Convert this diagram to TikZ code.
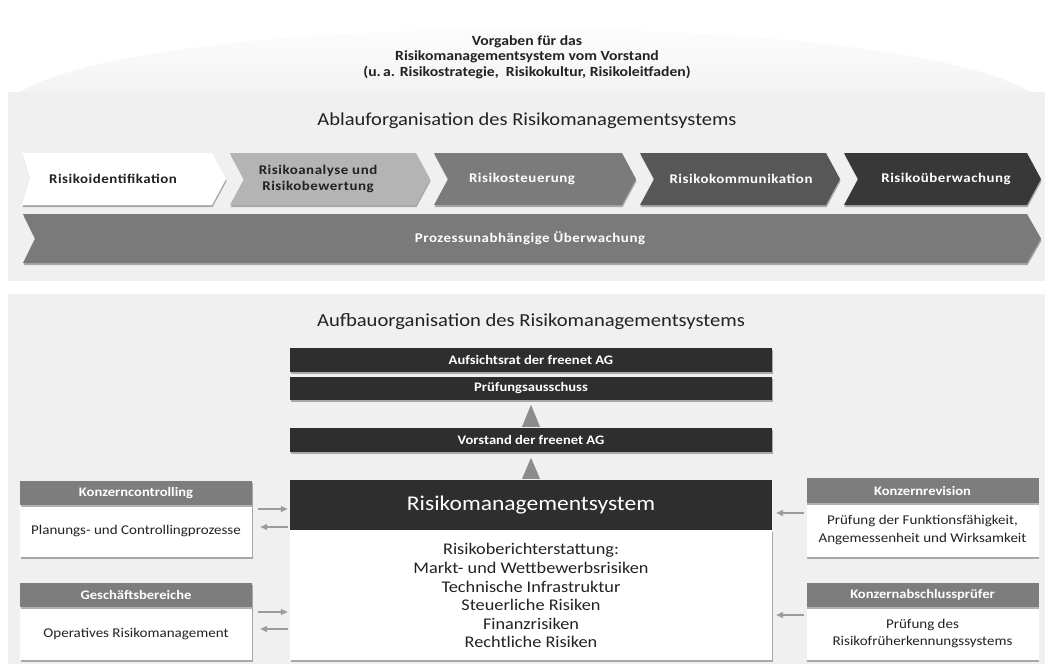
\documentclass[tikz,border=0pt]{standalone}
\usepackage{fontspec}
\setmainfont{Carlito}[FakeStretch=1.12]
\usetikzlibrary{arrows.meta,calc,shadows}
\definecolor{dk}{HTML}{2E2E2E}
\definecolor{hd}{HTML}{7D7D7D}
\definecolor{trc}{HTML}{8C8C8C}
\definecolor{cha}{HTML}{B4B4B4}
\definecolor{chb}{HTML}{7B7B7B}
\definecolor{chc}{HTML}{575757}
\definecolor{chd}{HTML}{383838}
\definecolor{barc}{HTML}{7A7A7A}
\definecolor{pbg}{HTML}{F0F0F0}
\definecolor{arc}{HTML}{9C9C9C}
\definecolor{tx}{HTML}{222222}
\newcommand{\fz}[2]{\fontsize{#1}{#2}\selectfont}
\begin{document}
\begin{tikzpicture}[x=1pt,y=-1pt,
  shd/.style={drop shadow={shadow xshift=0.6pt,shadow yshift=-2pt,opacity=0.3,fill=black}},
  darkbox/.style={fill=dk,text=white,font=\bfseries\fz{13}{15},minimum width=482pt,inner sep=0pt,shd},
  headbox/.style={fill=hd,text=white,font=\bfseries\fz{13}{15},minimum width=232pt,minimum height=24pt,inner sep=0pt,shd},
  bodybox/.style={fill=white,text=tx,font=\fz{13.4}{17.5},align=center,minimum width=232pt,inner sep=0pt,shd},
  chtext/.style={font=\bfseries\fz{13.3}{16}\addfontfeatures{LetterSpace=4},align=center},
  arr/.style={draw=arc,line width=1.3pt,-{Triangle[length=7pt,width=6pt]}},
  tri/.style={fill=trc}]
\useasboundingbox (0,0) rectangle (1051,664);
\fill[white] (0,0) rectangle (1051,664);
% top dome
\shade[top color=white,bottom color=gray!9] (20,92) .. controls (160,8) and (890,8) .. (1030,92) -- cycle;
% panels
\fill[pbg] (8,92) rectangle (1045,281);
\fill[pbg] (8,294) rectangle (1045,664);

% title
\node[font=\bfseries\fz{14}{15.5},align=center,text=tx] (title) at (527,57)
  {Vorgaben für das\\Risikomanagementsystem vom Vorstand\\(u.\,a. Risikostrategie,\ \ Risikokultur, Risikoleitfaden)};

% Ablauforganisation
\node[font=\fz{18.3}{21},text=tx] (ablauf) at (527,121) {Ablauforganisation des Risikomanagementsystems};

\path[fill=white,shd] (22,153) -- (212,153) -- (226,179) -- (212,205) -- (22,205) -- (30,179) -- cycle;
\path[fill=cha,shd] (230,153) -- (416,153) -- (430,179) -- (416,205) -- (230,205) -- (244,179) -- cycle;
\path[fill=chb,shd] (434,153) -- (622,153) -- (636,179) -- (622,205) -- (434,205) -- (448,179) -- cycle;
\path[fill=chc,shd] (640,153) -- (826,153) -- (840,179) -- (826,205) -- (640,205) -- (654,179) -- cycle;
\path[fill=chd,shd] (844,153) -- (1027,153) -- (1041,179) -- (1027,205) -- (844,205) -- (858,179) -- cycle;
\path[fill=barc,shd] (23,214) -- (1027,214) -- (1041,238.5) -- (1027,263) -- (23,263) -- (35,238.5) -- cycle;

\node[chtext,text=tx] (c1) at (113,179) {Risikoidentifikation};
\node[chtext,text=tx] (c2) at (318,179) {Risikoanalyse und\\Risikobewertung};
\node[chtext,text=white] (c3) at (522,179) {Risikosteuerung};
\node[chtext,text=white] (c4) at (741,179) {Risikokommunikation};
\node[chtext,text=white] (c5) at (946,179) {Risikoüberwachung};
\node[chtext,text=white] (c6) at (530,238.5) {Prozessunabhängige Überwachung};

% Aufbauorganisation
\node[font=\fz{18.4}{21},text=tx] (aufbau) at (531,322) {Aufbauorganisation des Risikomanagementsystems};

\node[darkbox,minimum height=24pt] (ar) at (531,360) {Aufsichtsrat der freenet AG};
\node[darkbox,minimum height=23pt] (pa) at (531,388.5) {Prüfungsausschuss};
\node[darkbox,minimum height=24pt] (vo) at (531,440) {Vorstand der freenet AG};
\node[fill=white,minimum width=482pt,minimum height=130pt,inner sep=0pt,shd] (rmsb) at (531,595) {};
\node[fill=dk,text=white,font=\fz{21}{24},minimum width=482pt,minimum height=50pt,inner sep=0pt] (rmsh) at (531,505) {Risikomanagementsystem};
\node[font=\fz{16.3}{18.6},align=center,text=tx,anchor=north] (rmst) at (531,540)
  {Risikoberichterstattung:\\Markt- und Wettbewerbsrisiken\\Technische Infrastruktur\\Steuerliche Risiken\\Finanzrisiken\\Rechtliche Risiken};

\fill[tri] ([xshift=-9pt,yshift=1pt]vo.north) -- ([xshift=9pt,yshift=1pt]vo.north) -- ([yshift=23pt]vo.north) -- cycle;
\fill[tri] ([xshift=-9pt,yshift=1pt]rmsh.north) -- ([xshift=9pt,yshift=1pt]rmsh.north) -- ([yshift=22pt]rmsh.north) -- cycle;

% left boxes
\node[bodybox,minimum height=52pt] (kcb) at (136,531) {Planungs- und Controllingprozesse};
\node[headbox] (kch) at (136,493) {Konzerncontrolling};
\node[bodybox,minimum height=53pt] (gbb) at (136,633.5) {Operatives Risikomanagement};
\node[headbox] (gbh) at (136,595) {Geschäftsbereiche};

% right boxes
\node[bodybox,minimum height=54pt] (krb) at (922.5,530) {Prüfung der Funktionsfähigkeit,\\Angemessenheit und Wirksamkeit};
\node[headbox,minimum height=25pt] (krh) at (922.5,490.5) {Konzernrevision};
\node[bodybox,minimum height=53pt] (kapb) at (922.5,633.5) {Prüfung des\\Risikofrüherkennungssystems};
\node[headbox] (kaph) at (922.5,595) {Konzernabschlussprüfer};

% arrows
\draw[arr] ($(kcb.east)+(6,-22)$) -- ($(rmsh.west)+(-2,4)$);
\draw[arr] ($(rmsh.west)+(-2,22)$) -- ($(kcb.east)+(8,-4)$);
\draw[arr] ($(gbb.east)+(6,-21.5)$) -- ($(rmsb.west)+(-2,17)$);
\draw[arr] ($(rmsb.west)+(-2,34)$) -- ($(gbb.east)+(8,-4.5)$);
\draw[arr] ($(krb.west)+(-2,-17)$) -- ($(rmsh.east)+(4,8)$);
\draw[arr] ($(kapb.west)+(-2,-18.5)$) -- ($(rmsb.east)+(4,20)$);
\end{tikzpicture}
\end{document}
